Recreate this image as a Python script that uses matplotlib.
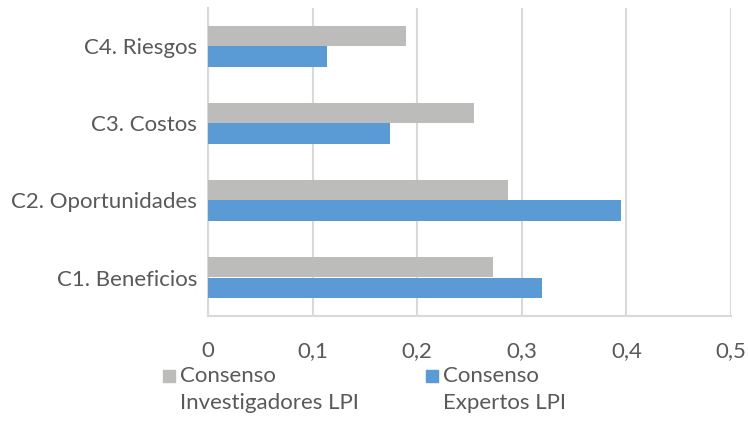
import matplotlib

matplotlib.use("Agg")
import matplotlib.pyplot as plt
import numpy as np
from matplotlib.patches import Rectangle

categories = ["C1. Beneficios", "C2. Oportunidades", "C3. Costos", "C4. Riesgos"]
investigadores = [0.272, 0.287, 0.254, 0.189]
expertos = [0.319, 0.395, 0.174, 0.114]
series_labels = ["Consenso\nInvestigadores LPI", "Consenso\nExpertos LPI"]
xticks = [0, 0.1, 0.2, 0.3, 0.4, 0.5]
xtick_labels = ["0", "0,1", "0,2", "0,3", "0,4", "0,5"]

GRAY = "#bcbcbb"
BLUE = "#5b9bd5"
TEXT = "#595959"
GRID = "#d9d9d9"
FS = 16

plt.rcParams["font.family"] = ["Lato", "DejaVu Sans"]

W, H = 748, 444
fig = plt.figure(figsize=(W / 100, H / 100), dpi=100)
ax = fig.add_axes([208 / W, 1 - 316 / H, (731 - 208) / W, (316 - 8) / H])

y = np.arange(len(categories))
h = 0.26
ax.barh(y + h / 2, investigadores, height=h, color=GRAY, zorder=3)
ax.barh(y - h / 2, expertos, height=h, color=BLUE, zorder=3)

ax.set_xlim(0, 0.5)
ax.set_ylim(-0.5, len(categories) - 0.5)
ax.set_xticks(xticks)
ax.set_xticklabels(xtick_labels)
ax.set_yticks(y)
ax.set_yticklabels(categories)
ax.tick_params(length=0, labelsize=FS, colors=TEXT)
ax.tick_params(axis="x", pad=18)
ax.tick_params(axis="y", pad=8)
ax.grid(axis="x", color=GRID, linewidth=1.5, zorder=0)
for side in ("top", "right"):
    ax.spines[side].set_visible(False)
for side in ("left", "bottom"):
    ax.spines[side].set_color(GRID)
    ax.spines[side].set_linewidth(1.5)

# legend drawn by hand so the swatch sits on the first text line
for x0, color, label in ((163, GRAY, series_labels[0]),
                         (426, BLUE, series_labels[1])):
    fig.patches.append(Rectangle((x0 / W, 1 - 382 / H), 12 / W, 12 / H,
                                 transform=fig.transFigure, color=color))
    fig.text((x0 + 17) / W, 1 - 366 / H, label, fontsize=FS, color=TEXT,
             va="top", ha="left", linespacing=1.45)

fig.savefig("out.png", dpi=100)
